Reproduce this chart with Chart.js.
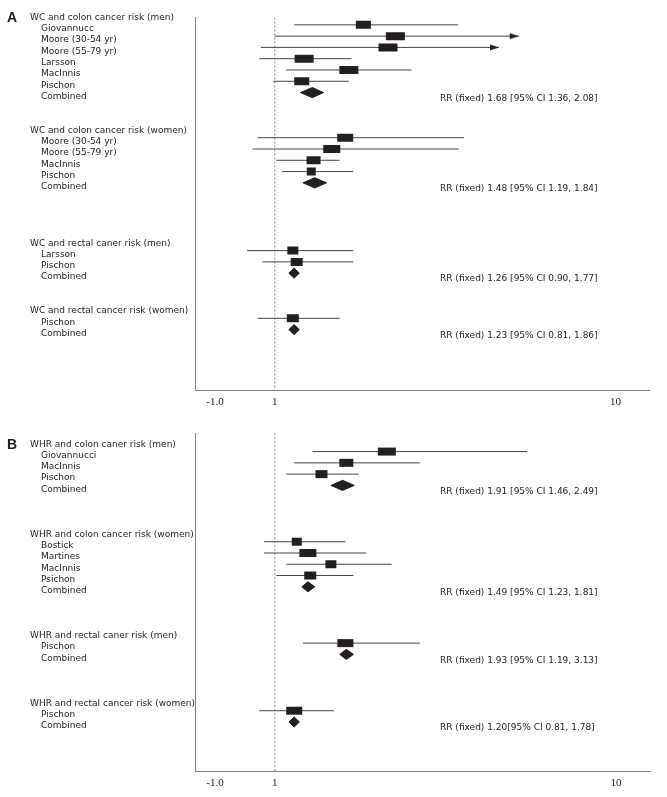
<!DOCTYPE html>
<html lang="en">
<head>
<meta charset="UTF-8">
<title>WC / WHR and colorectal cancer risk</title>
<script src="https://cdn.jsdelivr.net/npm/chart.js"></script>
<style>
  body { margin: 0; background: #fff; }
  canvas { display: block; }
</style>
</head>
<body>
<canvas id="panelA" width="667" height="416"></canvas>
<canvas id="panelB" width="667" height="381"></canvas>
<script>
// x axis (log scale), labels as printed in the figure
const tickValues = [0.668, 1, 10];
const tickLabels = ['-1.0', '1', '10'];

// Panel A: waist circumference
const aHeaders = ['WC and colon cancer risk (men)', 'WC and colon cancer risk (women)',
                  'WC and rectal caner risk (men)', 'WC and rectal cancer risk (women)'];
const aHeaderRows = [0, 10, 20, 26];
const aStudies = ['Giovannucc', 'Moore (30-54 yr)', 'Moore (55-79 yr)', 'Larsson', 'MacInnis', 'Pischon',
                  'Moore (30-54 yr)', 'Moore (55-79 yr)', 'MacInnis', 'Pischon',
                  'Larsson', 'Pischon',
                  'Pischon'];
const aStudyRows = [1, 2, 3, 4, 5, 6, 11, 12, 13, 14, 21, 22, 27];
const aEst  = [1.82, 2.26, 2.15, 1.22, 1.65, 1.20, 1.61, 1.47, 1.30, 1.28, 1.13, 1.16, 1.13];
const aLow  = [1.14, 1.00, 0.91, 0.90, 1.08, 0.99, 0.89, 0.86, 1.01, 1.05, 0.83, 0.92, 0.89];
const aHigh = [3.45, 5.20, 4.55, 1.68, 2.52, 1.65, 3.59, 3.47, 1.55, 1.70, 1.70, 1.70, 1.55];
const aWeight = [15, 19, 19, 19, 19, 15, 16, 17, 14, 9, 11, 12, 12];
const aArrow = [false, true, true, false, false, false, false, false, false, false, false, false, false];
const aCombRows = [7, 15, 23, 28];
const aCombEst  = [1.29, 1.31, 1.14, 1.14];
const aCombLow  = [1.19, 1.21, 1.10, 1.10];
const aCombHigh = [1.39, 1.42, 1.18, 1.18];
const aSummary = ['RR (fixed) 1.68 [95% CI 1.36, 2.08]', 'RR (fixed) 1.48 [95% CI 1.19, 1.84]',
                  'RR (fixed) 1.26 [95% CI 0.90, 1.77]', 'RR (fixed) 1.23 [95% CI 0.81, 1.86]'];

// Panel B: waist-hip ratio
const bHeaders = ['WHR and colon caner risk (men)', 'WHR and colon cancer risk (women)',
                  'WHR and rectal caner risk (men)', 'WHR and rectal cancer risk (women)'];
const bHeaderRows = [1, 9, 18, 24];
const bStudies = ['Giovannucci', 'MacInnis', 'Pischon',
                  'Bostick', 'Martines', 'MacInnis', 'Psichon',
                  'Pischon',
                  'Pischon'];
const bStudyRows = [2, 3, 4, 10, 11, 12, 13, 19, 25];
const bEst  = [2.13, 1.62, 1.37, 1.16, 1.25, 1.46, 1.27, 1.61, 1.14];
const bLow  = [1.29, 1.14, 1.08, 0.93, 0.93, 1.08, 1.01, 1.21, 0.90];
const bHigh = [5.49, 2.66, 1.76, 1.61, 1.85, 2.20, 1.70, 2.66, 1.49];
const bWeight = [18, 14, 12, 10, 17, 11, 12, 16, 16];
const bArrow = [false, false, false, false, false, false, false, false, false];
const bCombRows = [5, 14, 20, 26];
const bCombEst  = [1.58, 1.25, 1.62, 1.14];
const bCombLow  = [1.46, 1.20, 1.55, 1.10];
const bCombHigh = [1.71, 1.31, 1.70, 1.18];
const bSummary = ['RR (fixed) 1.91 [95% CI 1.46, 2.49]', 'RR (fixed) 1.49 [95% CI 1.23, 1.81]',
                  'RR (fixed) 1.93 [95% CI 1.19, 3.13]', 'RR (fixed) 1.20[95% CI 0.81, 1.78]'];

const INK = '#231f20';
const markShift = -0.35;   // marks sit a little above the label line
const diamondHalf = 0.45;

function arrowHead() {
  const c = document.createElement('canvas');
  c.width = 20; c.height = 7;
  const g = c.getContext('2d');
  g.fillStyle = INK;
  g.beginPath();
  g.moveTo(1, 0.5); g.lineTo(10, 3.5); g.lineTo(1, 6.5);
  g.closePath(); g.fill();
  return c;
}

function forest(id, p) {
  const ciData = [];
  p.est.forEach((v, i) => {
    const r = p.rows[i] + markShift;
    ciData.push({x: p.low[i], y: r}, {x: p.high[i], y: r}, {x: p.high[i], y: null});
  });

  const datasets = [];
  // boxes
  datasets.push({
    type: 'scatter',
    data: p.est.map((v, i) => ({x: v, y: p.rows[i] + markShift})),
    pointStyle: 'line',
    pointRadius: p.weight.map(w => w / 2),
    pointBorderWidth: 8,
    pointBorderColor: INK,
    pointBackgroundColor: INK
  });
  // diamonds
  p.combRows.forEach((row, i) => {
    const r = row + markShift;
    datasets.push({
      type: 'line',
      data: [{x: p.combLow[i], y: r}, {x: p.combEst[i], y: r - diamondHalf},
             {x: p.combHigh[i], y: r}, {x: p.combEst[i], y: r + diamondHalf},
             {x: p.combLow[i], y: r}],
      fill: 'shape',
      backgroundColor: INK,
      borderColor: INK,
      borderWidth: 1,
      pointRadius: 0,
      tension: 0
    });
  });
  // arrow heads for truncated intervals
  const arrowImg = arrowHead();
  datasets.push({
    type: 'scatter',
    data: p.est.map((v, i) => p.arrow[i] ? {x: p.high[i], y: p.rows[i] + markShift} : null).filter(d => d),
    pointStyle: arrowImg,
    pointRadius: 5
  });
  // confidence intervals
  datasets.push({
    type: 'line',
    data: ciData,
    borderColor: '#444',
    borderWidth: 1,
    pointRadius: 0,
    spanGaps: false
  });
  // line of no effect
  datasets.push({
    type: 'line',
    data: [{x: 1, y: 0}, {x: 1, y: p.rowsMax}],
    borderColor: '#8a8a8a',
    borderWidth: 1,
    borderDash: [2, 2],
    pointRadius: 0
  });

  const labels = {
    id: 'forestLabels' + id,
    afterDraw(chart) {
      const y = chart.scales.y;
      const ctx = chart.ctx;
      ctx.save();
      ctx.fillStyle = '#1e1e1e';
      ctx.textBaseline = 'middle';
      ctx.textAlign = 'left';
      ctx.font = 'bold 14px "Liberation Sans", Arial, sans-serif';
      ctx.fillText(p.letter, 7, y.getPixelForValue(p.headerRows[0]) + 1);
      ctx.font = '9px "DejaVu Sans", sans-serif';
      p.headers.forEach((t, i) => ctx.fillText(t, 30, y.getPixelForValue(p.headerRows[i])));
      p.studies.forEach((t, i) => ctx.fillText(t, 41, y.getPixelForValue(p.rows[i])));
      p.combRows.forEach((r, i) => {
        ctx.fillText('Combined', 41, y.getPixelForValue(r));
        ctx.fillText(p.summary[i], 440, y.getPixelForValue(r) + 2);
      });
      ctx.restore();
    }
  };

  new Chart(document.getElementById(id), {
    type: 'scatter',
    data: {datasets: datasets},
    options: {
      responsive: false,
      animation: false,
      events: [],
      layout: {padding: {top: p.padTop, left: 195, right: 16, bottom: 0}},
      plugins: {legend: {display: false}, tooltip: {enabled: false}},
      scales: {
        x: {
          type: 'logarithmic',
          min: 0.5835,
          max: 12.58,
          bounds: 'data',
          grid: {display: false, drawTicks: false},
          border: {color: '#808080'},
          ticks: {
            autoSkip: false,
            maxRotation: 0,
            padding: 6,
            color: '#222',
            font: {family: '"Liberation Serif", "Times New Roman", serif', size: 11},
            callback: (v, i) => tickLabels[i]
          },
          afterBuildTicks: s => { s.ticks = tickValues.map(v => ({value: v})); },
          afterFit: s => { s.height = 26; }
        },
        y: {
          type: 'linear',
          reverse: true,
          min: 0,
          max: p.rowsMax,
          grid: {display: false, drawTicks: false},
          border: {color: '#808080'},
          ticks: {display: false},
          afterFit: s => { s.width = 0; }
        }
      }
    },
    plugins: [labels]
  });
}

forest('panelA', {
  letter: 'A', rowsMax: 33, padTop: 17,
  headers: aHeaders, headerRows: aHeaderRows,
  studies: aStudies, rows: aStudyRows,
  est: aEst, low: aLow, high: aHigh, weight: aWeight, arrow: aArrow,
  combRows: aCombRows, combEst: aCombEst, combLow: aCombLow, combHigh: aCombHigh,
  summary: aSummary
});

forest('panelB', {
  letter: 'B', rowsMax: 30, padTop: 16,
  headers: bHeaders, headerRows: bHeaderRows,
  studies: bStudies, rows: bStudyRows,
  est: bEst, low: bLow, high: bHigh, weight: bWeight, arrow: bArrow,
  combRows: bCombRows, combEst: bCombEst, combLow: bCombLow, combHigh: bCombHigh,
  summary: bSummary
});
</script>
</body>
</html>
